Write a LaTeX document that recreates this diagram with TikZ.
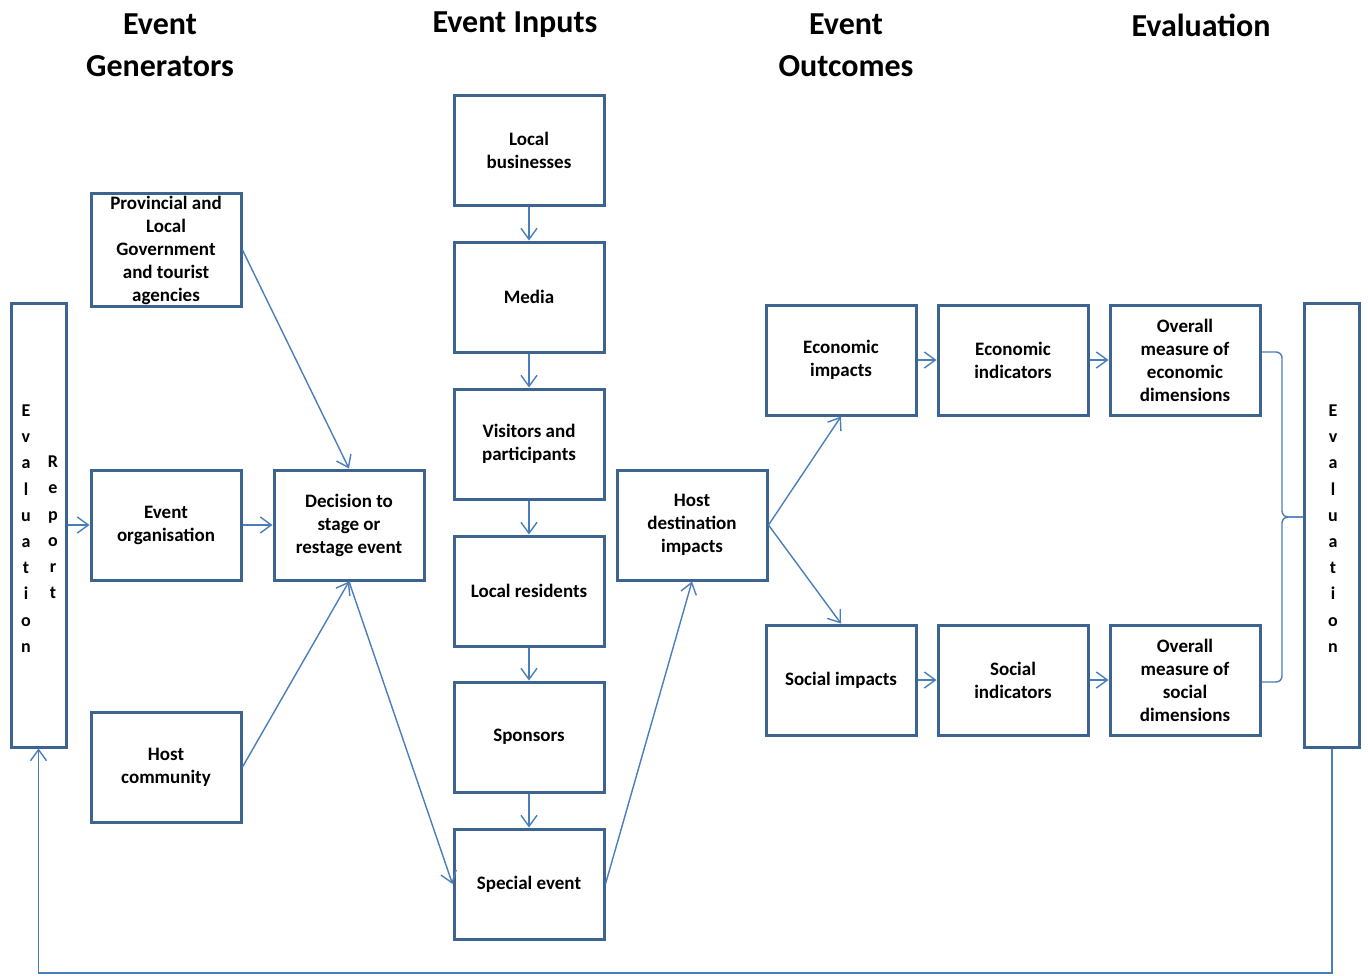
\documentclass[tikz,border=0pt]{standalone}
\usepackage{fontspec}
\setmainfont{Carlito}
\usetikzlibrary{arrows.meta,calc}
\definecolor{boxc}{HTML}{3D6391}
\definecolor{linec}{HTML}{4A7EBB}
\tikzset{
  box/.style={draw=boxc, line width=3pt, minimum width=150pt, minimum height=110pt, align=center, inner sep=2pt,
    font=\fontsize{19}{23}\selectfont\bfseries},
  tallbox/.style={draw=boxc, line width=3pt, minimum width=55pt, minimum height=444pt},
  vtext/.style={align=center, font=\fontsize{18}{26.2}\selectfont\bfseries, inner sep=0pt},
  head/.style={align=center, font=\fontsize{32}{42}\selectfont\bfseries},
  conn/.style={draw=linec, line width=1.4pt, -{Straight Barb[length=11pt,width=16pt,line width=1.4pt]}},
  plain/.style={draw=linec, line width=1.4pt},
}
\begin{document}
\begin{tikzpicture}[x=1pt,y=-1pt]
\useasboundingbox (0,0) rectangle (1368,975);
% headers
\node[head] (h1) at (160,45) {Event\\Generators};
\node[head] (h2) at (515,25) {Event Inputs};
\node[head] (h3) at (846,45) {Event\\Outcomes};
\node[head] (h4) at (1201,25) {Evaluation};
% evaluation columns
\node[tallbox] (leval) at (38.5,525) {};
\node[vtext] (levt) at (26,528.5) {E\\v\\a\\l\\u\\a\\t\\i\\o\\n};
\node[vtext] (lrep) at (53,527.5) {R\\e\\p\\o\\r\\t};
\node[tallbox] (reval) at (1332,525) {};
\node[vtext] (revt) at (1333,528.5) {E\\v\\a\\l\\u\\a\\t\\i\\o\\n};
% generators
\node[box] (prov) at (166,250) {Provincial and\\Local\\Government\\and tourist\\agencies};
\node[box] (eo) at (166,525) {Event\\organisation};
\node[box] (hc) at (166,767) {Host\\community};
\node[box] (dec) at (349,525) {Decision to\\stage or\\restage event};
% inputs
\node[box] (lb) at (529,150) {Local\\businesses};
\node[box] (med) at (529,297) {Media};
\node[box] (vis) at (529,444) {Visitors and\\participants};
\node[box] (lr) at (529,591) {Local residents};
\node[box] (sp) at (529,737) {Sponsors};
\node[box] (se) at (529,884) {Special event};
\node[box] (hd) at (692,525) {Host\\destination\\impacts};
% outcomes
\node[box] (ei) at (841,360) {Economic\\impacts};
\node[box] (ein) at (1013,360) {Economic\\indicators};
\node[box] (oe) at (1185,360) {Overall\\measure of\\economic\\dimensions};
\node[box] (si) at (841,680) {Social impacts};
\node[box] (sin) at (1013,680) {Social\\indicators};
\node[box] (os) at (1185,680) {Overall\\measure of\\social\\dimensions};
% connectors
\draw[conn] (leval.east) -- (eo.west);
\draw[conn] (eo.east) -- (dec.west);
\draw[conn] (prov.east) -- (dec.north);
\draw[conn] (hc.east) -- (dec.south);
\draw[conn] (dec.south) -- (se.west);
\draw[conn] (lb) -- (med);
\draw[conn] (med) -- (vis);
\draw[conn] (vis) -- (lr);
\draw[conn] (lr) -- (sp);
\draw[conn] (sp) -- (se);
\draw[conn] (se.east) -- (hd.south);
\draw[conn] (hd.east) -- (ei.south);
\draw[conn] (hd.east) -- (si.north);
\draw[conn] (ei) -- (ein);
\draw[conn] (ein) -- (oe);
\draw[conn] (si) -- (sin);
\draw[conn] (sin) -- (os);
% brace
\coordinate (bm) at (1282,517);
\draw[plain, rounded corners=6pt] ([yshift=8pt]oe.east) -| (bm) -- (reval.west |- bm);
\draw[plain, rounded corners=6pt] ([yshift=-2pt]os.east) -| (bm) -- (reval.west |- bm);
% feedback loop
\coordinate (bot) at (685,973);
\draw[conn] (reval.south) |- (bot) -| (leval.south);
\end{tikzpicture}
\end{document}
